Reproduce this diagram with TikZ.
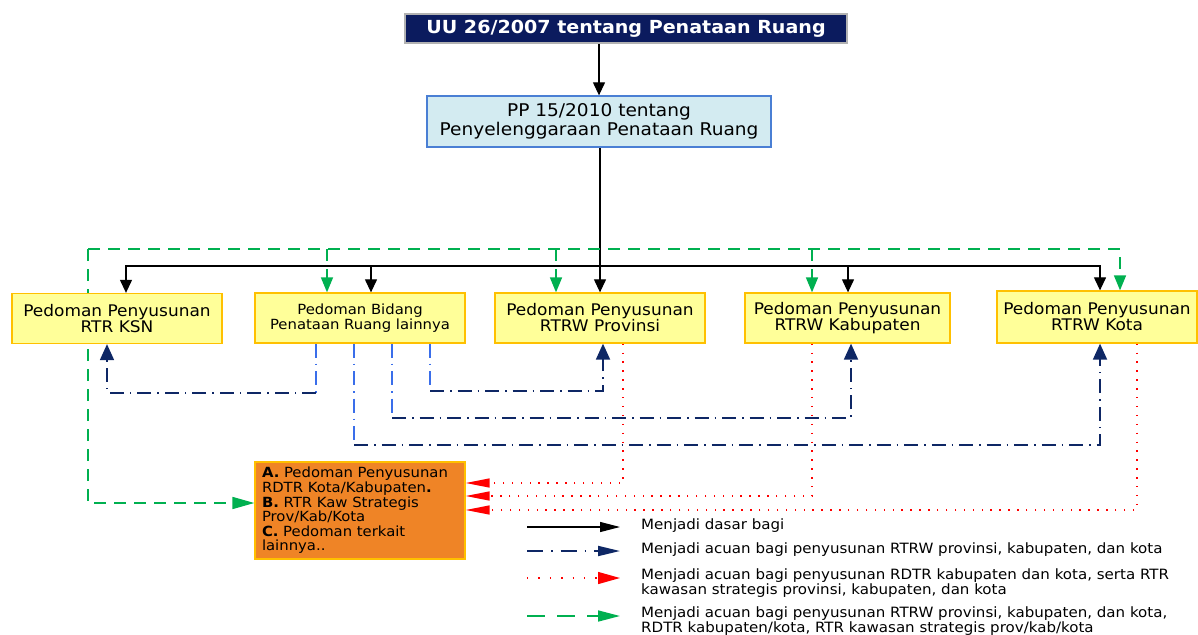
\documentclass[tikz,border=0pt]{standalone}
\usepackage{fontspec}
\setmainfont{DejaVu Sans}[FakeStretch=1.06]
\usetikzlibrary{arrows.meta,positioning,backgrounds}

\definecolor{navyuu}{HTML}{0B1B5E}
\definecolor{ppfill}{HTML}{D3EBF1}
\definecolor{ppline}{HTML}{4A7FD4}
\definecolor{kuning}{HTML}{FFFF99}
\definecolor{emas}{HTML}{FFC000}
\definecolor{oranye}{HTML}{EF8426}
\definecolor{biru}{HTML}{3A6EEA}
\definecolor{navyline}{HTML}{0E2765}
\definecolor{hijau}{HTML}{00B050}

\newcommand*{\busy}{266}
\newcommand*{\hijauy}{249}

\begin{document}
\begin{tikzpicture}
[
	x=1pt,y=-1pt,
	kotak/.style={draw=emas,line width=1.3pt,fill=kuning,minimum height=50pt,align=center,inner sep=0pt,font=\fontsize{16}{16}\selectfont},
	dasar/.style={black,line width=1.2pt,-{Triangle[length=13pt,width=12pt]}},
	acuan/.style={navyline,line width=1.8pt,dash pattern=on 14pt off 6pt on 1.5pt off 6pt,-{Triangle[length=16pt,width=14pt]}},
	acuanbiru/.style={biru,line width=1.8pt,dash pattern=on 14pt off 6pt on 1.5pt off 6pt},
	rdtr/.style={red,line width=1.4pt,dash pattern=on 1.4pt off 7.5pt,-{Triangle[length=24pt,width=9pt]}},
	semua/.style={hijau,line width=1.6pt,dash pattern=on 12pt off 8pt,-{Triangle[length=15pt,width=12pt]}},
	legtext/.style={anchor=north west,inner sep=0pt,align=left,font=\fontsize{14.2}{14.5}\selectfont}
]
	\useasboundingbox (0,0) rectangle (1198,634);

	% top boxes
	\node[draw=gray!60,line width=1.5pt,fill=navyuu,text=white,minimum width=442pt,minimum height=29pt,inner sep=0pt,font=\bfseries\fontsize{18}{18}\selectfont] (uu) at (626,28.5) {UU 26/2007 tentang Penataan Ruang};
	\node[draw=ppline,line width=1.3pt,fill=ppfill,minimum width=344pt,minimum height=51pt,inner sep=0pt,align=center,font=\fontsize{17.5}{19}\selectfont] (pp) at (599,121.5) {PP 15/2010 tentang\\Penyelenggaraan Penataan Ruang};

	% pedoman boxes
	\node[kotak,minimum width=210pt] (ksn) at (117,318.5) {Pedoman Penyusunan\\RTR KSN};
	\node[kotak,minimum width=210pt,font=\fontsize{14}{15}\selectfont] (bidang) at (360,318) {Pedoman Bidang\\Penataan Ruang lainnya};
	\node[kotak,minimum width=210pt] (prov) at (600,318) {Pedoman Penyusunan\\RTRW Provinsi};
	\node[kotak,minimum width=205pt] (kab) at (847.5,318) {Pedoman Penyusunan\\RTRW Kabupaten};
	\node[kotak,minimum width=200pt,minimum height=52pt] (kota) at (1097,317) {Pedoman Penyusunan\\RTRW Kota};
	\node[draw=emas,line width=1.3pt,fill=oranye,minimum width=210pt,minimum height=97pt,text width=196pt,inner xsep=7pt,align=left,font=\fontsize{14}{14.6}\selectfont] (lain) at (360,510.5) {\textbf{A.} Pedoman Penyusunan\\RDTR Kota/Kabupaten\textbf{.}\\\textbf{B.} RTR Kaw Strategis\\Prov/Kab/Kota\\\textbf{C.} Pedoman terkait\\lainnya..};

	\begin{scope}[on background layer]
	% menjadi dasar bagi
	\coordinate (bus) at (600,\busy);
	\draw[dasar] (pp.north |- uu.south) -- (pp.north);
	\draw[dasar] (prov.north |- pp.south) -- (prov.north);
	\foreach \n/\dx in {ksn/9,bidang/11,kab/0.5,kota/3} {
		\draw[dasar] (bus) -| ([xshift=\dx]\n.north);
	}

	% green dashed lines
	\coordinate (gtop) at (88,\hijauy);
	\coordinate (gkota) at ([xshift=23]kota.north);
	\draw[semua] (gtop) -| (gkota);
	\draw[semua,-{Triangle[length=22pt,width=12pt]}] (gtop) |- ([yshift=7.5]lain.west);
	\foreach \n/\dx in {bidang/-33,prov/-44,kab/-35.5} {
		\coordinate (g\n) at ([xshift=\dx]\n.north);
		\draw[semua] (gtop -| g\n) -- (g\n);
	}

	% dash-dot lines from pedoman bidang
	\foreach \n/\dx/\dt/\dy in {ksn/-44/-10/49,prov/70/3/47,kab/32/3.5/74,kota/-6/3/101} {
		\coordinate (b\n) at ([xshift=\dx]bidang.south);
		\coordinate (h\n) at ([yshift=-\dy]bidang.south);
		\coordinate (t\n) at ([xshift=\dt]\n.south);
		\draw[acuanbiru] (b\n) -- (b\n |- h\n);
		\draw[acuan] (b\n |- h\n) -| (t\n);
	}

	% red dotted lines
	\foreach \n/\dx/\dy in {prov/23/27.5,kab/-35.5/14.5,kota/40/0.5} {
		\coordinate (r\n) at ([xshift=\dx]\n.south);
		\draw[rdtr] (r\n) |- ([yshift=\dy]lain.east);
	}
	\end{scope}

	% legend
	\node[legtext] (leg1) at (641,519) {Menjadi dasar bagi};
	\node[legtext] (leg2) at (641,543) {Menjadi acuan bagi penyusunan RTRW provinsi, kabupaten, dan kota};
	\node[legtext] (leg3) at (641,569) {Menjadi acuan bagi penyusunan RDTR kabupaten dan kota, serta RTR\\kawasan strategis provinsi, kabupaten, dan kota};
	\node[legtext] (leg4) at (641,607) {Menjadi acuan bagi penyusunan RTRW provinsi, kabupaten, dan kota,\\RDTR kabupaten/kota, RTR kawasan strategis prov/kab/kota};
	\foreach \i/\y in {1/527,2/551,3/578,4/616} {
		\coordinate (ls\i) at (527,\y);
		\coordinate (le\i) at (620,\y);
	}
	\draw[dasar,-{Triangle[length=20pt,width=10pt]}] (ls1) -- (le1);
	\draw[acuan,dash pattern=on 16pt off 8pt on 1.5pt off 8pt,-{Triangle[length=22pt,width=10pt]}] (ls2) -- (le2);
	\draw[rdtr,dash pattern=on 1.4pt off 10pt,-{Triangle[length=22pt,width=12pt]}] (ls3) -- (le3);
	\draw[semua,dash pattern=on 18pt off 12pt,-{Triangle[length=22pt,width=11pt]}] (ls4) -- (le4);

\end{tikzpicture}
\end{document}
